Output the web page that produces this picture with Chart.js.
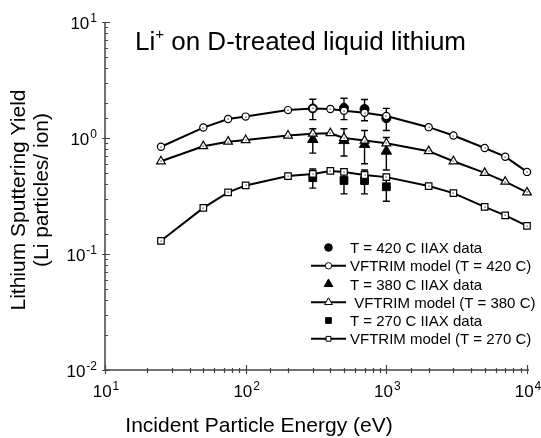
<!DOCTYPE html>
<html>
<head>
<meta charset="utf-8">
<script src="https://cdn.jsdelivr.net/npm/chart.js@4.4.1/dist/chart.umd.min.js"></script>
<style>
  html, body { margin: 0; padding: 0; background: #fff; }
  canvas { display: block; }
</style>
</head>
<body>
<canvas id="yield" width="541" height="438"></canvas>
<script>
// VFTRIM model curves
const energies = [25, 50, 75, 100, 200, 300, 400, 500, 700, 1000, 2000, 3000, 5000, 7000, 10000];
const model420 = [0.84, 1.23, 1.46, 1.53, 1.74, 1.80, 1.78, 1.72, 1.65, 1.55, 1.24, 1.05, 0.82, 0.69, 0.51];
const model380 = [0.63, 0.85, 0.93, 0.96, 1.05, 1.09, 1.10, 1.00, 0.95, 0.90, 0.77, 0.63, 0.50, 0.42, 0.34];
const model270 = [0.13, 0.25, 0.34, 0.39, 0.47, 0.49, 0.52, 0.51, 0.48, 0.46, 0.385, 0.335, 0.255, 0.215, 0.175];

// IIAX measurements with their error bars
const dataEnergies = [300, 500, 700, 1000];
const data420 = [1.80, 1.82, 1.78, 1.48];
const err420 = [0.36, 0.38, 0.37, 0.32];
const data380 = [0.97, 0.95, 0.88, 0.77];
const err380 = [0.23, 0.25, 0.28, 0.24];
const data270 = [0.455, 0.43, 0.43, 0.38];
const err270 = [0.085, 0.10, 0.10, 0.095];

const xDecades = [10, 100, 1000, 10000];
const yDecades = [0.01, 0.1, 1, 10];

const legendLabels = [
    'T = 420 C IIAX data',
    'VFTRIM model (T = 420 C)',
    'T = 380 C IIAX data',
    ' VFTRIM model (T = 380 C)',
    'T = 270 C IIAX data',
    'VFTRIM model (T = 270 C)'
];

const FONT = '"Liberation Sans", Arial, Helvetica, sans-serif';

function points(xs, ys) {
    return xs.map((x, i) => ({ x: x, y: ys[i] }));
}

function modelSet(label, ys, style, radius) {
    return {
        label: label,
        data: points(energies, ys),
        borderColor: '#000',
        borderWidth: 2,
        pointStyle: style,
        pointRadius: radius,
        pointBackgroundColor: '#fff',
        pointBorderColor: '#000',
        pointBorderWidth: 1.2,
        clip: false,
        order: 0,
        centerDot: true
    };
}

function dataSet(label, ys, errs, style, radius) {
    return {
        label: label,
        data: points(dataEnergies, ys),
        errors: errs,
        showLine: false,
        pointStyle: style,
        pointRadius: radius,
        pointBackgroundColor: '#000',
        pointBorderColor: '#000',
        pointBorderWidth: 1,
        clip: false,
        order: 1
    };
}

// small marker shapes for the legend
function marker(ctx, style, x, y, r, filled) {
    ctx.beginPath();
    if (style === 'circle') {
        ctx.arc(x, y, r, 0, Math.PI * 2);
    } else if (style === 'triangle') {
        ctx.moveTo(x, y - r);
        ctx.lineTo(x + r * 0.866, y + r * 0.5);
        ctx.lineTo(x - r * 0.866, y + r * 0.5);
        ctx.closePath();
    } else {
        ctx.rect(x - r * 0.75, y - r * 0.75, r * 1.5, r * 1.5);
    }
    ctx.fillStyle = filled ? '#000' : '#fff';
    ctx.fill();
    ctx.lineWidth = 1;
    ctx.strokeStyle = '#000';
    ctx.stroke();
}

// "10" followed by a raised exponent
function power(ctx, exp, x, y, align) {
    ctx.font = '17px ' + FONT;
    const baseW = ctx.measureText('10').width;
    ctx.font = '12px ' + FONT;
    const supW = ctx.measureText(exp).width;
    const total = baseW + 1 + supW;
    const left = align === 'center' ? x - total / 2 : x - total;
    ctx.textAlign = 'left';
    ctx.textBaseline = 'alphabetic';
    ctx.fillStyle = '#000';
    ctx.font = '17px ' + FONT;
    ctx.fillText('10', left, y);
    ctx.font = '12px ' + FONT;
    ctx.fillText(exp, left + baseW + 1, y - 7);
}

const errorBars = {
    id: 'errorBars',
    beforeDatasetsDraw(chart) {
        const ctx = chart.ctx;
        const xs = chart.scales.x, ys = chart.scales.y;
        ctx.save();
        ctx.strokeStyle = '#000';
        ctx.lineWidth = 1.4;
        chart.data.datasets.forEach((ds) => {
            if (!ds.errors) return;
            ds.data.forEach((p, i) => {
                const px = xs.getPixelForValue(p.x);
                const top = ys.getPixelForValue(p.y + ds.errors[i]);
                const bot = ys.getPixelForValue(p.y - ds.errors[i]);
                ctx.beginPath();
                ctx.moveTo(px, top);
                ctx.lineTo(px, bot);
                ctx.moveTo(px - 3.5, top);
                ctx.lineTo(px + 3.5, top);
                ctx.moveTo(px - 3.5, bot);
                ctx.lineTo(px + 3.5, bot);
                ctx.stroke();
            });
        });
        ctx.restore();
    },
    // open model markers carry a tiny dot in the middle
    afterDatasetsDraw(chart) {
        const ctx = chart.ctx;
        ctx.save();
        ctx.fillStyle = '#333';
        chart.data.datasets.forEach((ds, i) => {
            if (!ds.centerDot) return;
            chart.getDatasetMeta(i).data.forEach((pt) => {
                ctx.fillRect(Math.round(pt.x) - 0.5, Math.round(pt.y) - 0.5, 1.2, 1.2);
            });
        });
        ctx.restore();
    }
};

const frame = {
    id: 'frame',
    afterDraw(chart) {
        const ctx = chart.ctx;
        const area = chart.chartArea;
        const xs = chart.scales.x, ys = chart.scales.y;
        const isMajor = (v) => Math.abs(Math.log10(v) - Math.round(Math.log10(v))) < 1e-6;
        ctx.save();

        // axis lines and ticks
        ctx.strokeStyle = '#444';
        ctx.lineWidth = 1.5;
        ctx.beginPath();
        ctx.moveTo(area.left, area.top);
        ctx.lineTo(area.left, area.bottom);
        ctx.lineTo(area.right + 2, area.bottom);
        ctx.stroke();

        ctx.lineWidth = 1.2;
        ctx.beginPath();
        xs.ticks.forEach((t) => {
            const px = Math.round(xs.getPixelForValue(t.value)) + 0.5;
            const major = isMajor(t.value);
            ctx.moveTo(px, area.bottom + (major ? 4 : 3));
            ctx.lineTo(px, area.bottom - (major ? 5 : 2));
        });
        ys.ticks.forEach((t) => {
            const py = Math.round(ys.getPixelForValue(t.value)) + 0.5;
            const major = isMajor(t.value);
            ctx.moveTo(area.left - (major ? 3 : 0), py);
            ctx.lineTo(area.left + (major ? 5 : 3), py);
        });
        ctx.stroke();

        // decade labels
        xDecades.forEach((v) => {
            power(ctx, String(Math.round(Math.log10(v))), xs.getPixelForValue(v) + 1, area.bottom + 27, 'center');
        });
        yDecades.forEach((v) => {
            power(ctx, String(Math.round(Math.log10(v))), area.left - 8, ys.getPixelForValue(v) + 7, 'right');
        });

        // axis titles
        ctx.fillStyle = '#000';
        ctx.font = '21px ' + FONT;
        ctx.textAlign = 'center';
        ctx.textBaseline = 'alphabetic';
        ctx.fillText('Incident Particle Energy (eV)', 259, 432);
        ctx.save();
        ctx.rotate(-Math.PI / 2);
        ctx.fillText('Lithium Sputtering Yield', -200, 25);
        ctx.fillText('(Li particles/ ion)', -190, 48);
        ctx.restore();

        // caption inside the plot
        ctx.textAlign = 'left';
        ctx.font = '26px ' + FONT;
        let tx = 135;
        ctx.fillText('Li', tx, 50);
        tx += ctx.measureText('Li').width;
        ctx.font = '15px ' + FONT;
        ctx.fillText('+', tx, 39);
        tx += ctx.measureText('+').width;
        ctx.font = '26px ' + FONT;
        ctx.fillText(' on D-treated liquid lithium', tx, 50);

        // legend
        const styles = ['circle', 'circle', 'triangle', 'triangle', 'rect', 'rect'];
        const rowY = [247.5, 265.8, 284, 302.3, 320.5, 338.8];
        ctx.font = '15px ' + FONT;
        legendLabels.forEach((label, i) => {
            const y = rowY[i];
            const isModel = i % 2 === 1;
            if (isModel) {
                ctx.strokeStyle = '#000';
                ctx.lineWidth = 2;
                ctx.beginPath();
                ctx.moveTo(311, y);
                ctx.lineTo(346, y);
                ctx.stroke();
                marker(ctx, styles[i], 328.5, y, styles[i] === 'triangle' ? 4.5 : 3.2, false);
            } else {
                marker(ctx, styles[i], 328.5, y, styles[i] === 'triangle' ? 5 : 3.8, true);
            }
            ctx.fillStyle = '#000';
            ctx.fillText(label, 350, y + 5.5);
        });

        ctx.restore();
    }
};

const ctx = document.getElementById('yield').getContext('2d');

new Chart(ctx, {
    type: 'line',
    data: {
        datasets: [
            modelSet('VFTRIM model (T = 420 C)', model420, 'circle', 3.6),
            modelSet('VFTRIM model (T = 380 C)', model380, 'triangle', 5),
            modelSet('VFTRIM model (T = 270 C)', model270, 'rect', 4.6),
            dataSet('T = 420 C IIAX data', data420, err420, 'circle', 4.5),
            dataSet('T = 380 C IIAX data', data380, err380, 'triangle', 6),
            dataSet('T = 270 C IIAX data', data270, err270, 'rect', 5.5)
        ]
    },
    options: {
        responsive: false,
        animation: false,
        devicePixelRatio: 1,
        layout: {
            autoPadding: false,
            padding: { top: 22, right: 14, left: 0, bottom: 0 }
        },
        plugins: {
            legend: { display: false },
            tooltip: { enabled: false },
            title: { display: false }
        },
        elements: {
            line: { tension: 0 }
        },
        scales: {
            x: {
                type: 'logarithmic',
                min: 10,
                max: 10000,
                grid: { display: false },
                border: { display: false },
                ticks: { display: false },
                afterFit: (scale) => { scale.height = 68; }
            },
            y: {
                type: 'logarithmic',
                min: 0.01,
                max: 10,
                grid: { display: false },
                border: { display: false },
                ticks: { display: false },
                afterFit: (scale) => { scale.width = 105; }
            }
        }
    },
    plugins: [errorBars, frame]
});
</script>
</body>
</html>
